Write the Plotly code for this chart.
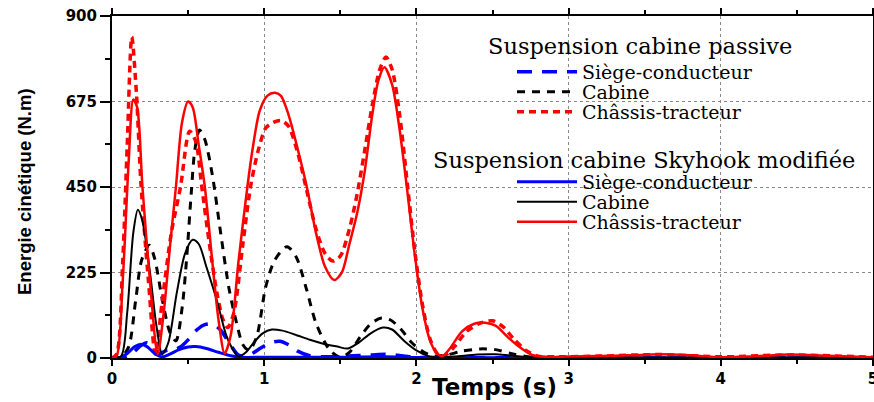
import plotly.graph_objects as go

# ---------------- data ----------------
# Passive cab suspension
t_p_siege = [0, 0.08, 0.14, 0.19, 0.23, 0.27, 0.31, 0.36, 0.41, 0.46, 0.51, 0.56, 0.61, 0.66, 0.71, 0.77, 0.83, 0.88,
             0.93, 0.98, 1.04, 1.10, 1.16, 1.22, 1.30, 1.40, 1.55, 1.70, 1.80, 1.90, 2.00, 2.20, 5.0]
e_p_siege = [0, 2, 15, 33, 40, 30, 12, 20, 22, 32, 52, 75, 88, 89, 75, 40, 8, 5,
             14, 27, 40, 44, 35, 18, 6, 3, 5, 8, 10, 6, 2, 1, 0]

t_p_cabine = [0, 0.06, 0.11, 0.155, 0.195, 0.245, 0.28, 0.33, 0.38, 0.42, 0.46, 0.49, 0.52, 0.545, 0.575, 0.61,
              0.66, 0.71, 0.77, 0.82, 0.86, 0.90, 0.95, 1.01, 1.07, 1.15, 1.21, 1.28, 1.34, 1.43, 1.50, 1.56,
              1.63, 1.70, 1.77, 1.83, 1.90, 1.97, 2.05, 2.12, 2.20, 2.30, 2.42, 2.52, 2.62, 2.72, 2.85, 5.0]
e_p_cabine = [0, 2, 30, 150, 258, 297, 262, 155, 68, 45, 130, 260, 430, 550, 600, 575,
              480, 340, 180, 90, 35, 20, 55, 187, 258, 293, 266, 178, 92, 21, 2, 15,
              55, 90, 105, 100, 75, 40, 15, 5, 8, 18, 24, 22, 12, 4, 1, 1]

t_p_chassis = [0, 0.03, 0.07, 0.10, 0.13, 0.16, 0.19, 0.24, 0.285, 0.33, 0.39, 0.45, 0.51, 0.55, 0.59, 0.64,
               0.69, 0.73, 0.76, 0.80, 0.86, 0.91, 0.96, 1.01, 1.06, 1.11, 1.16, 1.22, 1.28, 1.34, 1.40, 1.45,
               1.50, 1.56, 1.61, 1.66, 1.71, 1.76, 1.80, 1.84, 1.89, 1.94, 1.99, 2.04, 2.09, 2.14, 2.18, 2.25,
               2.33, 2.42, 2.50, 2.57, 2.64, 2.72, 2.80, 2.90, 3.20, 3.60, 4.00, 4.45, 5.0]
e_p_chassis = [0, 10, 250, 560, 845, 700, 460, 200, 10, 150, 330, 450, 597, 570, 450, 300,
               170, 100, 80, 118, 300, 450, 545, 605, 620, 625, 610, 540, 440, 340, 275, 255,
               268, 340, 430, 545, 665, 760, 792, 760, 640, 460, 280, 140, 50, 10, 5, 30,
               70, 92, 98, 82, 50, 20, 5, 3, 5, 9, 3, 8, 2]

# Modified Skyhook cab suspension
t_s_siege = [0, 0.05, 0.10, 0.15, 0.19, 0.23, 0.28, 0.33, 0.38, 0.44, 0.50, 0.55, 0.62, 0.70, 0.78, 0.85,
             1.00, 1.50, 1.80, 2.00, 5.0]
e_s_siege = [0, 1, 12, 30, 36, 30, 12, 3, 10, 22, 29, 30, 25, 15, 6, 2,
             2, 2, 3, 1, 0]

t_s_cabine = [0, 0.06, 0.10, 0.14, 0.17, 0.20, 0.25, 0.29, 0.33, 0.37, 0.425, 0.48, 0.53, 0.57, 0.62, 0.69,
              0.75, 0.79, 0.83, 0.88, 0.93, 0.99, 1.05, 1.12, 1.20, 1.30, 1.40, 1.48, 1.55, 1.62, 1.70, 1.78,
              1.84, 1.92, 2.00, 2.08, 2.15, 2.25, 2.40, 2.52, 2.62, 2.75, 3.0, 5.0]
e_s_cabine = [0, 5, 120, 330, 390, 360, 224, 90, 10, 40, 170, 275, 311, 300, 240, 150,
              60, 25, 4, 15, 40, 65, 75, 72, 62, 48, 36, 30, 25, 40, 65, 80,
              75, 45, 20, 5, 2, 4, 9, 10, 6, 2, 1, 1]

t_s_chassis = [0, 0.03, 0.07, 0.11, 0.14, 0.165, 0.20, 0.25, 0.30, 0.34, 0.38, 0.42, 0.46, 0.50, 0.53, 0.57,
               0.61, 0.66, 0.70, 0.74, 0.78, 0.83, 0.88, 0.92, 0.97, 1.02, 1.07, 1.11, 1.16, 1.22, 1.28, 1.34,
               1.40, 1.46, 1.51, 1.56, 1.61, 1.66, 1.71, 1.75, 1.79, 1.84, 1.89, 1.94, 1.99, 2.04, 2.09, 2.13,
               2.17, 2.22, 2.30, 2.38, 2.45, 2.52, 2.60, 2.68, 2.76, 2.85, 3.0, 3.2, 3.4, 3.6, 3.8, 4.0,
               4.2, 4.45, 4.7, 5.0]
e_s_chassis = [0, 5, 200, 520, 680, 660, 450, 200, 10, 120, 290, 450, 620, 675, 660, 560,
               450, 250, 100, 12, 60, 250, 420, 540, 650, 690, 698, 690, 640, 550, 450, 330,
               240, 205, 225, 300, 380, 490, 640, 730, 765, 720, 600, 440, 270, 130, 45, 15,
               5, 25, 70, 90, 93, 85, 55, 28, 8, 3, 4, 5, 7, 10, 7, 2,
               4, 9, 6, 2]

y_ticks = [0, 225, 450, 675, 900]
x_ticks = [0, 1, 2, 3, 4, 5]

group_passive = "Suspension cabine passive"
group_skyhook = "Suspension cabine Skyhook modifiée"
names = ["Siège-conducteur", "Cabine", "Châssis-tracteur"]
x_title = "Temps (s)"
y_title = "Energie cinétique (N.m)"

# ---------------- figure ----------------
fig = go.Figure()

series = [
    (t_p_siege, e_p_siege, names[0], dict(color="#0000ff", width=3.5, dash="15px,10px"), "legend"),
    (t_p_cabine, e_p_cabine, names[1], dict(color="#000000", width=3, dash="8px,7px"), "legend2"),
    (t_p_chassis, e_p_chassis, names[2], dict(color="#ff0000", width=3.5, dash="7px,5px"), "legend3"),
    (t_s_siege, e_s_siege, names[0], dict(color="#0000ff", width=3), "legend4"),
    (t_s_cabine, e_s_cabine, names[1], dict(color="#000000", width=2), "legend5"),
    (t_s_chassis, e_s_chassis, names[2], dict(color="#ff0000", width=2.5), "legend6"),
]
for t, e, nm, ln, lg in series:
    ln = dict(ln, shape="spline", smoothing=0.8)
    fig.add_trace(go.Scatter(x=t, y=e, mode="lines", name=nm, line=ln, legend=lg))

W, H = 874, 402
ML, MR, MT, MB = 112, 1, 16, 44
pw = W - ML - MR
ph = H - MT - MB


def px_to_paper_x(px):
    return (px - ML) / pw


def px_to_paper_y(py):
    return (H - MB - py) / ph


legend_font = dict(family="DejaVu Serif", size=19, color="black")
item_rows = [72, 92, 112, 182, 202, 222]
layout_legends = {}
for i, row in enumerate(item_rows):
    key = "legend" if i == 0 else f"legend{i + 1}"
    layout_legends[key] = dict(
        x=px_to_paper_x(512), xanchor="left",
        y=px_to_paper_y(row), yanchor="middle",
        bgcolor="rgba(0,0,0,0)", borderwidth=0,
        font=legend_font, itemwidth=60,
        tracegroupgap=0,
    )

tick_font = dict(family="DejaVu Sans", size=15, color="black", weight="bold")

fig.update_layout(
    width=W, height=H,
    margin=dict(l=ML, r=MR, t=MT, b=MB, autoexpand=False),
    paper_bgcolor="white", plot_bgcolor="white",
    showlegend=True,
    **layout_legends,
    xaxis=dict(
        range=[0, 5], tickvals=x_ticks, ticktext=[str(v) for v in x_ticks],
        showline=True, linecolor="black", linewidth=2, mirror="ticks",
        ticks="outside", ticklen=6, tickwidth=2, tickcolor="black",
        minor=dict(dtick=0.5, ticks="outside", ticklen=4, tickwidth=1.5, tickcolor="black", showgrid=False),
        showgrid=True, gridcolor="#888888", griddash="dot", gridwidth=1,
        zeroline=False, tickfont=tick_font, automargin=False, ticklabeloverflow="allow",
    ),
    yaxis=dict(
        range=[0, 900], tickvals=y_ticks, ticktext=[str(v) for v in y_ticks],
        showline=True, linecolor="black", linewidth=2, mirror="ticks",
        ticks="outside", ticklen=10, tickwidth=2, tickcolor="black",
        minor=dict(dtick=112.5, tick0=0, ticks="outside", ticklen=5, tickwidth=1.5, tickcolor="black",
                   showgrid=False),
        showgrid=True, gridcolor="#888888", griddash="dot", gridwidth=1,
        zeroline=False, tickfont=tick_font, automargin=False,
    ),
    annotations=[
        dict(text=group_passive, xref="paper", yref="paper", x=px_to_paper_x(640), y=px_to_paper_y(46),
             xanchor="center", yanchor="middle", showarrow=False,
             font=dict(family="DejaVu Serif", size=22.5, color="black")),
        dict(text=group_skyhook, xref="paper", yref="paper", x=px_to_paper_x(644), y=px_to_paper_y(160),
             xanchor="center", yanchor="middle", showarrow=False,
             font=dict(family="DejaVu Serif", size=22.5, color="black")),
        dict(text=x_title, xref="paper", yref="paper", x=px_to_paper_x(494), y=px_to_paper_y(387),
             xanchor="center", yanchor="middle", showarrow=False,
             font=dict(family="DejaVu Sans", size=23, color="black", weight="bold")),
        dict(text=y_title, xref="paper", yref="paper", x=px_to_paper_x(24), y=px_to_paper_y(192),
             xanchor="center", yanchor="middle", showarrow=False, textangle=-90,
             font=dict(family="Liberation Sans", size=18.5, color="black", weight="bold")),
    ],
)

fig.write_html("out.html")
